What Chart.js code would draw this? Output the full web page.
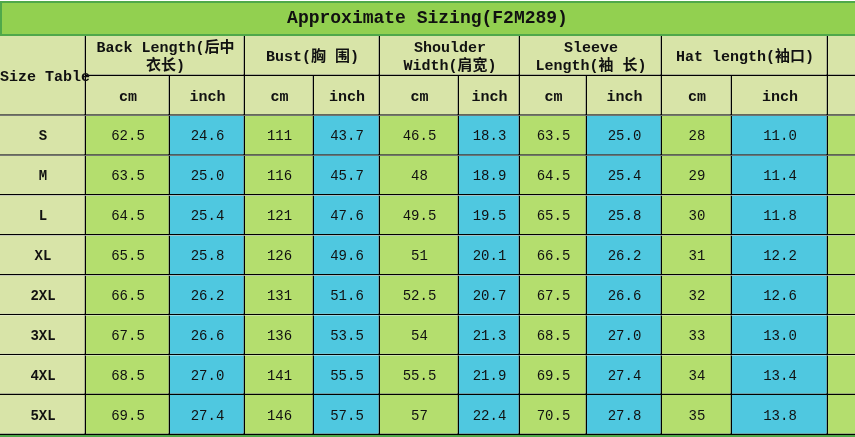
<!DOCTYPE html>
<html>
<head>
<meta charset="utf-8">
<script src="https://cdn.jsdelivr.net/npm/chart.js@4.4.0/dist/chart.umd.min.js"></script>
<style>
html, body { margin: 0; padding: 0; background: #fff; }
canvas { display: block; }
</style>
</head>
<body>
<canvas id="grafico" width="855" height="437"></canvas>
<script>
const titulo = "Approximate Sizing(F2M289)";
const rotuloTabela = "Size Table";
const tamanhos = ["S", "M", "L", "XL", "2XL", "3XL", "4XL", "5XL"];
const grupos = [
    ["Back Length(后中", "衣长)"],
    ["Bust(胸 围)"],
    ["Shoulder", "Width(肩宽)"],
    ["Sleeve", "Length(袖 长)"],
    ["Hat length(袖口)"]
];
const unidades = ["cm", "inch"];

const costasCm = [62.5, 63.5, 64.5, 65.5, 66.5, 67.5, 68.5, 69.5];
const costasInch = [24.6, 25.0, 25.4, 25.8, 26.2, 26.6, 27.0, 27.4];
const bustoCm = [111, 116, 121, 126, 131, 136, 141, 146];
const bustoInch = [43.7, 45.7, 47.6, 49.6, 51.6, 53.5, 55.5, 57.5];
const ombroCm = [46.5, 48, 49.5, 51, 52.5, 54, 55.5, 57];
const ombroInch = [18.3, 18.9, 19.5, 20.1, 20.7, 21.3, 21.9, 22.4];
const mangaCm = [63.5, 64.5, 65.5, 66.5, 67.5, 68.5, 69.5, 70.5];
const mangaInch = [25.0, 25.4, 25.8, 26.2, 26.6, 27.0, 27.4, 27.8];
const capuzCm = [28, 29, 30, 31, 32, 33, 34, 35];
const capuzInch = [11.0, 11.4, 11.8, 12.2, 12.6, 13.0, 13.4, 13.8];

const colunas = [costasCm, costasInch, bustoCm, bustoInch, ombroCm, ombroInch,
    mangaCm, mangaInch, capuzCm, capuzInch];

// layout: bordas das colunas em unidades do eixo x (0..855)
const bordas = [0, 86, 170, 245, 314, 380, 459, 520, 587, 662, 732, 828, 855];
const linhasTabela = ["grupo", "unidade", ...tamanhos];

const cores = {
    cabecalho: "#d8e4a8",
    cm: "#b4de6e",
    inch: "#4fc8e0",
    titulo: "#92d050",
    tituloBorda: "#4fa84a",
    linha: "#000"
};
const fonte = '"Liberation Mono", "Noto Sans CJK SC", monospace';

function intervalo(c, i) {
    if (i === 0 && c >= 1 && c <= 10) {
        return (c - 1) % 2 === 0 ? [bordas[c], bordas[c + 2]] : null;
    }
    return [bordas[c], bordas[c + 1]];
}

function corCelula(c, i) {
    if (i < 2 || c === 0) return cores.cabecalho;
    if (c === 11) return cores.cm;
    return (c - 1) % 2 === 0 ? cores.cm : cores.inch;
}

function textoCelula(c, i) {
    if (c === 11) return [];
    if (c === 0) return i === 0 ? [rotuloTabela] : (i === 1 ? [] : [tamanhos[i - 2]]);
    if (i === 0) return grupos[Math.floor((c - 1) / 2)];
    if (i === 1) return [unidades[(c - 1) % 2]];
    const v = colunas[c - 1][i - 2];
    return [(c - 1) % 2 === 1 ? v.toFixed(1) : String(v)];
}

const datasets = bordas.slice(0, -1).map((_, c) => ({
    label: "col" + c,
    data: linhasTabela.map((_, i) => intervalo(c, i)),
    backgroundColor: ctx => corCelula(c, ctx.dataIndex),
    borderColor: cores.linha,
    borderWidth: ctx => ({
        top: 0,
        left: 0,
        right: c === 11 ? 0 : 1.5,
        bottom: (c === 0 && ctx.dataIndex === 0) ? 0 : 1.5
    }),
    borderSkipped: false,
    grouped: false,
    barPercentage: 1,
    categoryPercentage: 1,
    inflateAmount: 0
}));

const fundo = {
    id: "fundo",
    beforeDraw(chart) {
        const ctx = chart.ctx;
        const area = chart.chartArea;
        ctx.save();
        ctx.fillStyle = "#fff";
        ctx.fillRect(0, 0, chart.width, chart.height);
        ctx.fillStyle = cores.tituloBorda;
        ctx.fillRect(0, 1, chart.width, area.top - 1);
        ctx.fillStyle = cores.titulo;
        ctx.fillRect(2, 3, chart.width - 2, area.top - 5);
        ctx.fillStyle = cores.tituloBorda;
        ctx.fillRect(0, area.bottom, chart.width, chart.height - area.bottom);
        ctx.restore();
    }
};

const textoCelulas = {
    id: "textoCelulas",
    afterDatasetsDraw(chart) {
        const ctx = chart.ctx;
        ctx.save();
        ctx.textBaseline = "middle";
        ctx.fillStyle = "#111";
        chart.data.datasets.forEach((ds, c) => {
            const meta = chart.getDatasetMeta(c);
            meta.data.forEach((bar, i) => {
                if (ds.data[i] === null) return;
                const linhas = textoCelula(c, i);
                if (!linhas.length) return;
                const p = bar.getProps(["x", "y", "base", "height"], true);
                if (i < 2) ctx.font = "bold 15px " + fonte;
                else if (c === 0) ctx.font = "bold 14px " + fonte;
                else ctx.font = "14px " + fonte;
                if (c === 0 && i === 0) {
                    ctx.textAlign = "left";
                    ctx.fillText(linhas[0], p.base, p.y + p.height / 2 + 1);
                    return;
                }
                ctx.textAlign = "center";
                const cx = (p.x + p.base) / 2;
                const alt = 18;
                linhas.forEach((t, k) => {
                    ctx.fillText(t, cx, p.y + 1 + (k - (linhas.length - 1) / 2) * alt);
                });
            });
        });
        ctx.restore();
    }
};

new Chart(document.getElementById("grafico").getContext("2d"), {
    type: "bar",
    data: { labels: linhasTabela, datasets },
    options: {
        indexAxis: "y",
        responsive: false,
        animation: false,
        layout: { padding: { top: 0, left: 0, right: 0, bottom: 2 } },
        plugins: {
            legend: { display: false },
            tooltip: { enabled: false },
            title: {
                display: true,
                text: titulo,
                color: "#111",
                font: { family: fonte, size: 18, weight: "bold", lineHeight: 1.2 },
                padding: { top: 8, bottom: 6.4 }
            }
        },
        scales: {
            x: { type: "linear", min: 0, max: 855, display: false },
            y: { display: false }
        }
    },
    plugins: [fundo, textoCelulas]
});
</script>
</body>
</html>
